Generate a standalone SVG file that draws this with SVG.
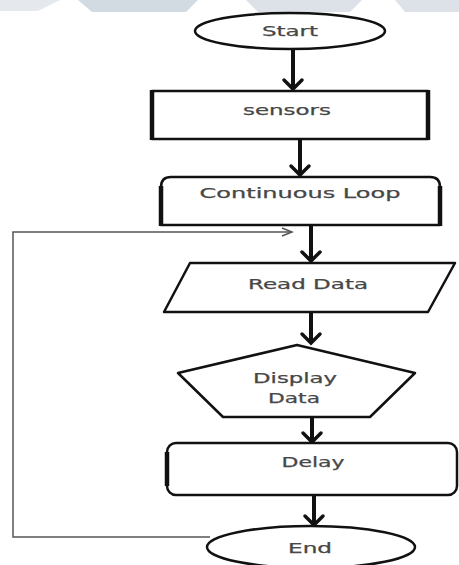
<svg xmlns="http://www.w3.org/2000/svg" width="459" height="565" viewBox="0 0 459 565">
<style>
.shape{fill:#fff;stroke:#111;stroke-width:2.5;stroke-linejoin:round}
.thick{stroke:#111;stroke-width:4.5;fill:none}
.lbl{font-family:"DejaVu Sans",Verdana,sans-serif;font-size:14px;fill:#474747;stroke:#474747;stroke-width:0.25;text-anchor:middle}
.flow{stroke:#111;stroke-width:4;fill:none}
.head{stroke:#111;stroke-width:3.5;fill:none;stroke-linecap:round;stroke-linejoin:miter}
.loop{stroke:#555;stroke-width:1.5;fill:none}
.wm{fill:#d3dbe2}
</style>
<rect width="459" height="565" fill="#fff"/>
<g id="watermark">
<polygon class="wm" points="0,0 60,0 38,11 0,11" opacity="0.6"/>
<polygon class="wm" points="78,0 198,0 186,12 92,12"/>
<polygon class="wm" points="246,0 362,0 350,12 258,12" opacity="0.8"/>
<polygon class="wm" points="395,0 459,0 459,12 405,12" opacity="0.8"/>
</g>
<g id="connectors">
<line class="flow" x1="293" y1="50" x2="293" y2="89"/>
<polyline class="head" points="284,80 293,89 302,80"/>
<line class="flow" x1="300" y1="139" x2="300" y2="175"/>
<polyline class="head" points="291,166 300,175 309,166"/>
<line class="flow" x1="311" y1="225" x2="311" y2="261"/>
<polyline class="head" points="302,252 311,261 320,252"/>
<line class="flow" x1="311" y1="313" x2="311" y2="343"/>
<polyline class="head" points="302,334 311,343 320,334"/>
<line class="flow" x1="312" y1="417" x2="312" y2="442"/>
<polyline class="head" points="303,433 312,442 321,433"/>
<line class="flow" x1="314" y1="495" x2="314" y2="525"/>
<polyline class="head" points="305,516 314,525 323,516"/>
<polyline class="loop" points="210,537 13,537 13,232 292,232"/>
<polyline class="loop" points="282,228 292,232 282,236"/>
</g>
<g id="start">
<ellipse class="shape" cx="290" cy="31" rx="95" ry="18" stroke-width="3"/>
<text class="lbl" x="290" y="36" textLength="56" lengthAdjust="spacingAndGlyphs">Start</text>
</g>
<g id="sensors">
<rect class="shape" x="152" y="91" width="276" height="48"/>
<line class="thick" x1="152" y1="90" x2="152" y2="140"/>
<line class="thick" x1="428" y1="90" x2="428" y2="140"/>
<text class="lbl" x="287" y="115" textLength="88" lengthAdjust="spacingAndGlyphs">sensors</text>
</g>
<g id="continuous-loop">
<path class="shape" d="M161,225 V187 Q161,177 171,177 H430 Q440,177 440,187 V225 Z"/>
<line class="thick" x1="161" y1="186" x2="161" y2="226"/>
<line class="thick" x1="440" y1="186" x2="440" y2="226"/>
<text class="lbl" x="300" y="198" textLength="201" lengthAdjust="spacingAndGlyphs">Continuous Loop</text>
</g>
<g id="read-data">
<polygon class="shape" points="190,263 455,263 428,312 164,312" stroke-width="3.5"/>
<text class="lbl" x="308" y="289" textLength="120" lengthAdjust="spacingAndGlyphs">Read Data</text>
</g>
<g id="display-data">
<polygon class="shape" points="297,345 415,373 370,417 223,417 178,373" stroke-width="3"/>
<text class="lbl" x="295" y="383" textLength="84" lengthAdjust="spacingAndGlyphs">Display</text>
<text class="lbl" x="294" y="403" textLength="52" lengthAdjust="spacingAndGlyphs">Data</text>
</g>
<g id="delay">
<rect class="shape" x="167" y="443" width="290" height="52" rx="9" stroke-width="3"/>
<line class="thick" x1="167" y1="452" x2="167" y2="486"/>
<text class="lbl" x="313" y="467" textLength="63" lengthAdjust="spacingAndGlyphs">Delay</text>
</g>
<g id="end">
<ellipse class="shape" cx="311" cy="547" rx="104" ry="21" stroke-width="3.5"/>
<text class="lbl" x="310" y="553" textLength="44" lengthAdjust="spacingAndGlyphs">End</text>
</g>
</svg>
